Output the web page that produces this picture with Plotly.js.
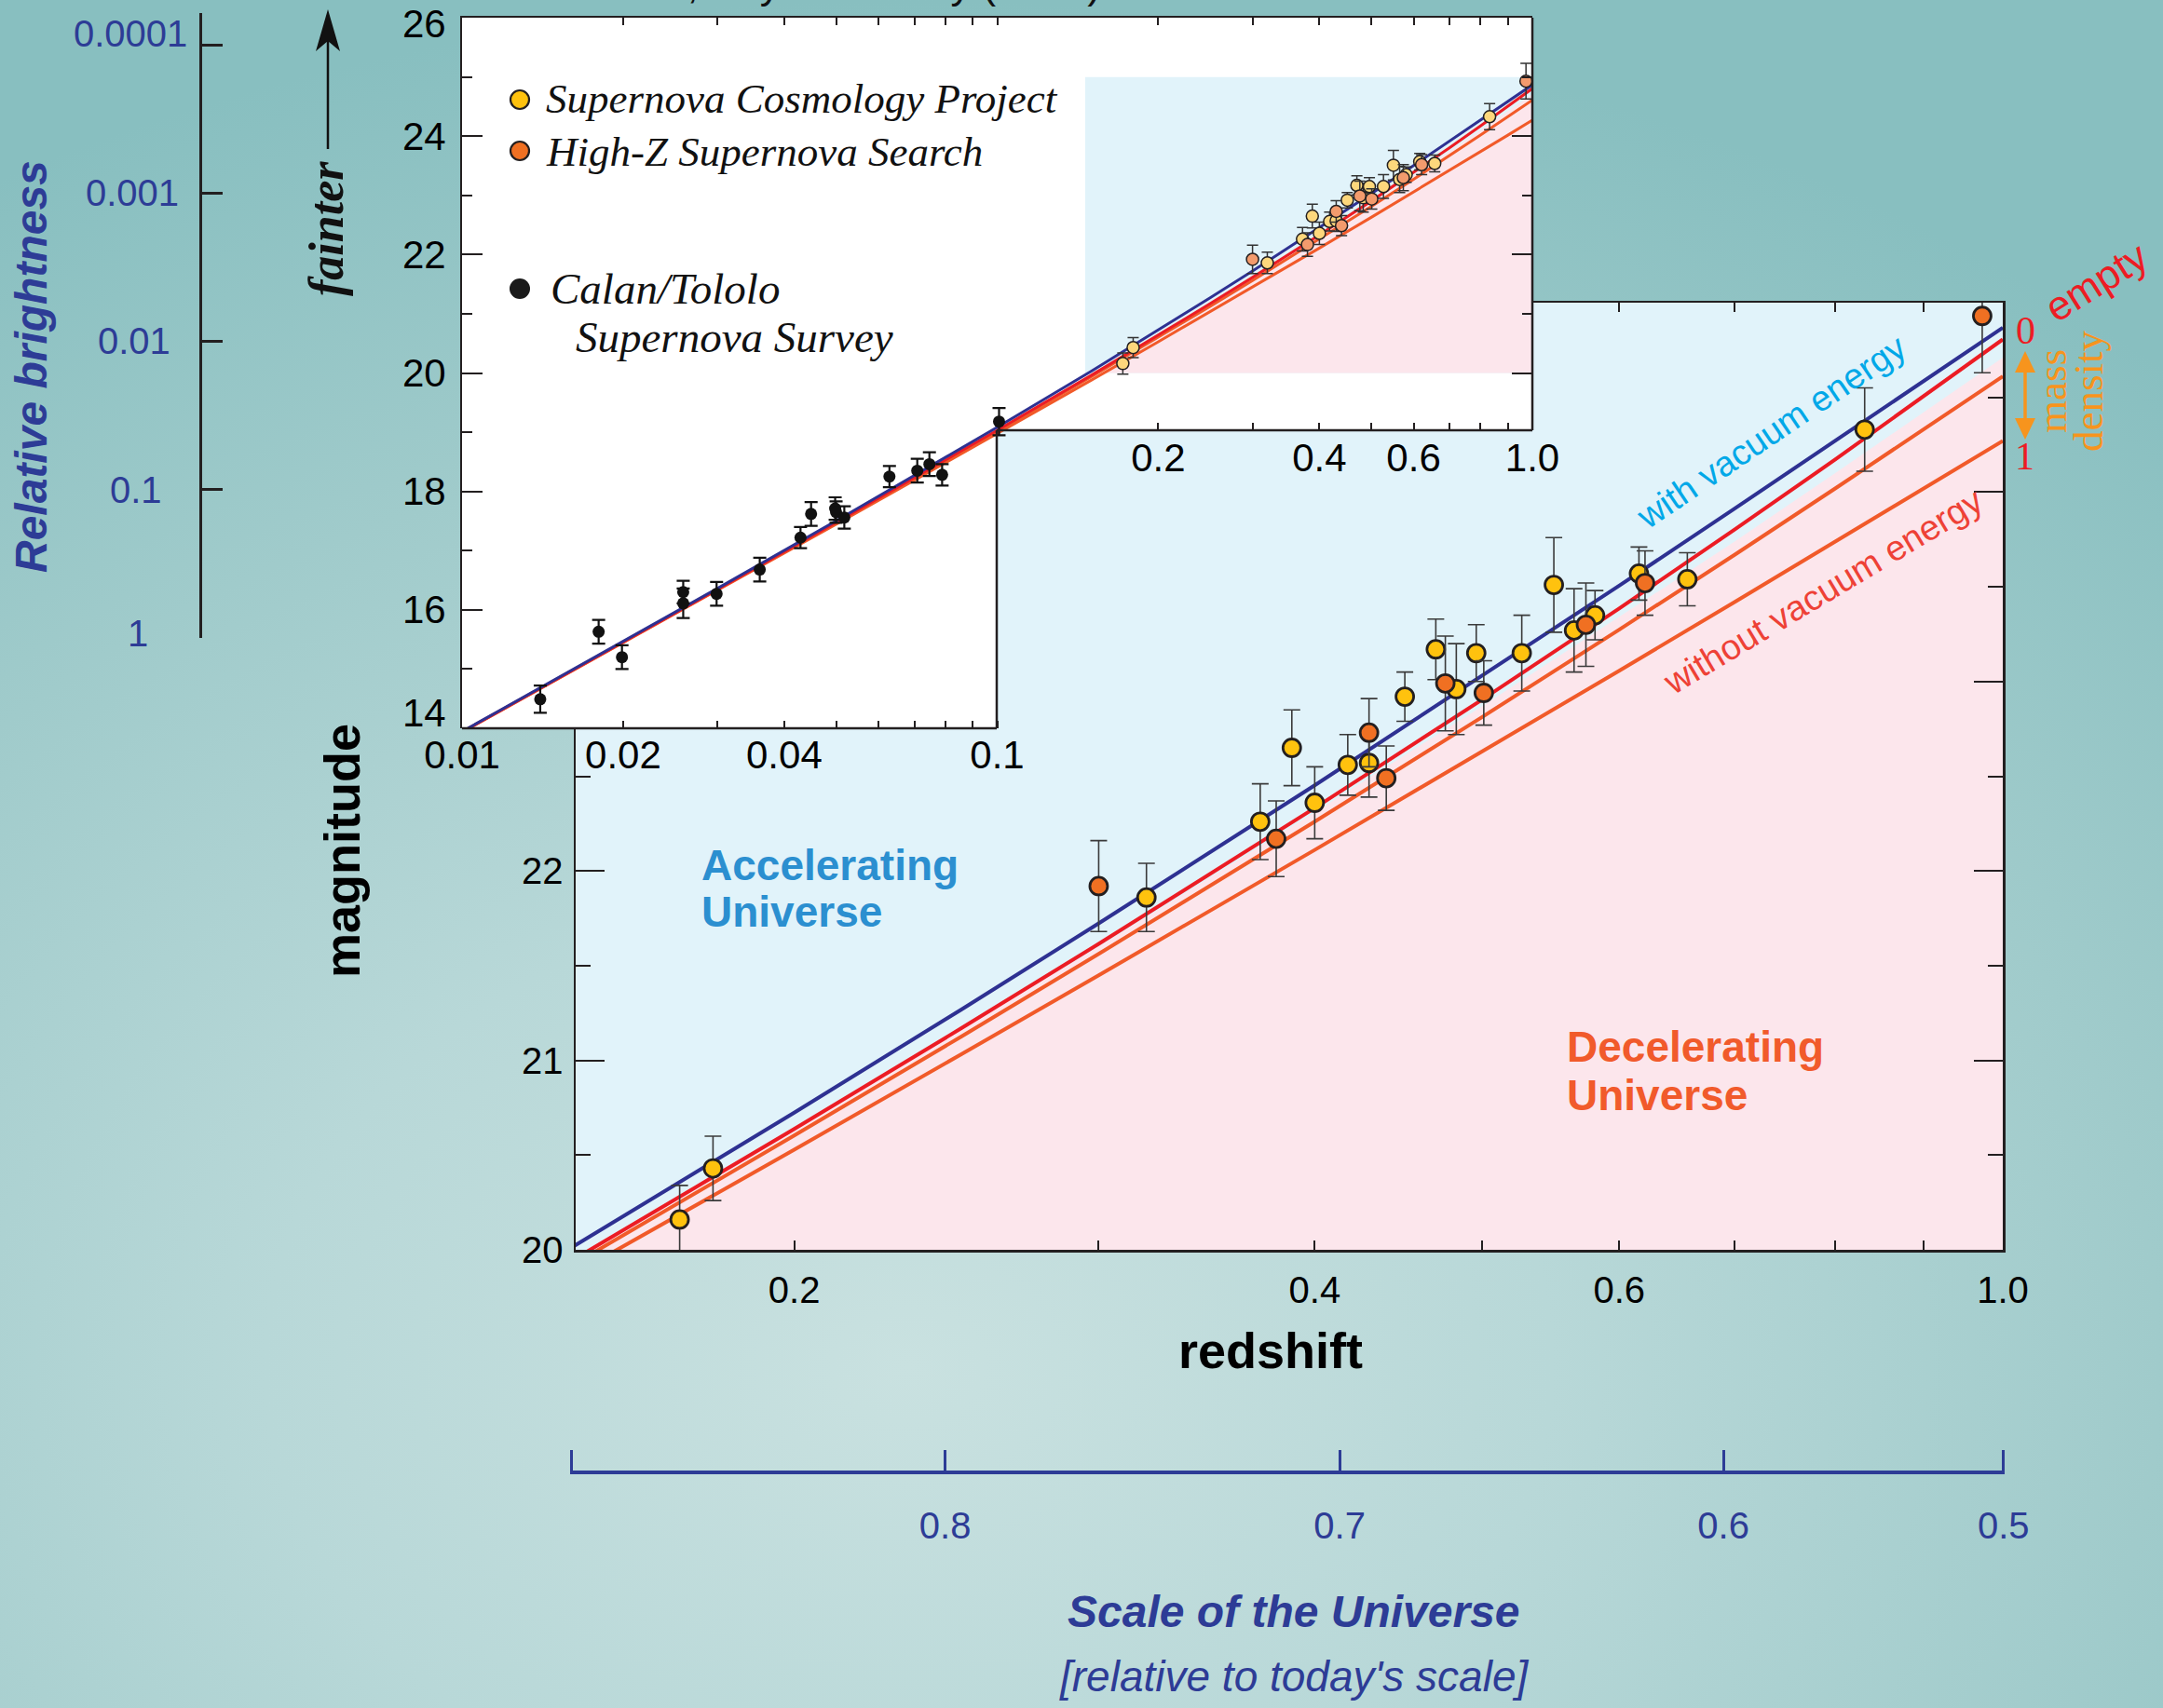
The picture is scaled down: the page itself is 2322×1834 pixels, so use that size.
<!DOCTYPE html>
<html><head><meta charset="utf-8">
<script src="https://cdn.plot.ly/plotly-3.0.1.min.js"></script>
<style>
html,body{margin:0;padding:0;}
body{width:2322px;height:1834px;overflow:hidden;
background: radial-gradient(ellipse 85% 80% at 42% 80%, #c9e1e0 0%, #b8d8d8 35%, #a0cbcb 68%, #88bfc0 100%);}
#chart{width:2322px;height:1834px;}
</style></head><body><div id="chart"></div>
<script>
// ------------------ DATA ------------------
// cosmological model curves (magnitude vs redshift)
const modelZ       = [0.01,0.015,0.02,0.03,0.05,0.07,0.1,0.15,0.2,0.25,0.3,0.4,0.5,0.6,0.7,0.8,0.9,1.0];
const mVacuum      = [13.943,14.831,15.464,16.361,17.502,18.264,19.083,20.033,20.724,21.270,21.723,22.452,23.029,23.506,23.914,24.270,24.585,24.868];
const mEmpty       = [13.937,14.823,15.453,16.344,17.475,18.226,19.032,19.963,20.638,21.171,21.615,22.332,22.905,23.386,23.803,24.172,24.504,24.806];
const mLowDensity  = [13.935,14.820,15.450,16.339,17.466,18.215,19.015,19.938,20.603,21.127,21.562,22.260,22.813,23.274,23.670,24.019,24.330,24.611];
const mFullDensity = [13.931,14.815,15.442,16.328,17.447,18.188,18.977,19.881,20.528,21.034,21.449,22.111,22.630,23.057,23.421,23.737,24.018,24.270];
// accelerating / decelerating boundary
const boundaryZ = [0.153,0.2,0.3,0.4,0.5,0.6,0.7,0.8,0.9,1.0];
const boundaryM = [20.00,20.63,21.60,22.31,22.87,23.34,23.74,24.10,24.42,24.71];
// Supernova Cosmology Project
const scpZ   = [0.1717,0.1795,0.3197,0.372,0.388,0.400,0.418,0.430,0.451,0.470,0.483,0.496,0.527,0.550,0.565,0.581,0.616,0.657,0.832];
const scpM   = [20.16,20.43,21.86,22.26,22.65,22.36,22.56,22.57,22.92,23.17,22.96,23.15,23.15,23.51,23.27,23.35,23.57,23.54,24.33];
const scpErr = [0.18,0.17,0.18,0.20,0.20,0.19,0.16,0.18,0.13,0.16,0.24,0.15,0.20,0.25,0.22,0.13,0.14,0.14,0.22];
// High-Z Supernova Search
const hzZ   = [0.300,0.380,0.430,0.440,0.476,0.501,0.574,0.621,0.973];
const hzM   = [21.92,22.17,22.73,22.49,22.99,22.94,23.30,23.52,24.93];
const hzErr = [0.24,0.20,0.18,0.17,0.25,0.17,0.22,0.17,0.30];
// Calan/Tololo Supernova Survey
const ctZ   = [0.0140,0.0180,0.0199,0.0259,0.0259,0.0299,0.0360,0.0429,0.0449,0.0498,0.0500,0.0518,0.0629,0.0709,0.0747,0.0789,0.1008];
const ctM   = [14.49,15.63,15.20,16.30,16.11,16.27,16.68,17.22,17.62,17.71,17.65,17.56,18.25,18.35,18.46,18.28,19.18];
const ctErr = [0.23,0.20,0.20,0.19,0.25,0.20,0.20,0.18,0.20,0.19,0.18,0.19,0.18,0.20,0.20,0.18,0.23];
// tick values / labels
const mainXTicks  = [0.2,0.3,0.4,0.5,0.6,0.7,0.8,0.9,1.0];
const mainXLabels = ['0.2','','0.4','','0.6','','','','1.0'];
const mainYTicks  = [20,21,22,23,24,25];
const mainYMinor  = [20.5,21.5,22.5,23.5,24.5];
const insetXLow       = [0.01,0.02,0.03,0.04,0.05,0.06,0.07,0.08,0.09,0.1];
const insetXLowLabels = ['0.01','0.02','','0.04','','','','','','0.1'];
const insetXHigh       = [0.2,0.3,0.4,0.5,0.6,0.7,0.8,0.9,1.0];
const insetXHighLabels = ['0.2','','0.4','','0.6','','','','1.0'];
const insetYMajor = [14,16,18,20,22,24,26];
const insetYMinor = [15,17,19,21,23,25];
const insetRightMajor = [20,22,24,26];
const insetRightMinor = [21,23,25];
const brightnessVals   = [1,0.1,0.01,0.001,0.0001];
const brightnessLabels = ['1','0.1','0.01','0.001','0.0001'];
const scaleTickZ  = [0.1483,0.2441,0.4129,0.6885,1.0];
const scaleLabels = ['','0.8','0.7','0.6','0.5'];
const legendNames = ['Supernova Cosmology Project','High-Z Supernova Search','Calan/Tololo','Supernova Survey'];

// ------------------ LAYOUT HELPERS ------------------
const W = 2322, H = 1834;
const px = x => x / W;
const py = y => 1 - y / H;
const SANS = '"Liberation Sans", Arial, Helvetica, sans-serif';
const SERIF = '"Liberation Serif", "Times New Roman", Times, serif';
const INK = '#231F20';
const NAVY = '#2D3C96';
const mainZRange = [0.1495, 1.0], mainMRange = [20, 25];
const insetMRange = [13.999, 26.002], insetStepM = 19.042, insetStepZ = 0.1, insetPanelZ0 = 0.146;

const traces = [];
const models = [
  {m: mFullDensity, c: '#F15A29'},
  {m: mLowDensity,  c: '#F15A29'},
  {m: mEmpty,       c: '#EC1C24'},
  {m: mVacuum,      c: '#2E3192'}
];
// main panel
traces.push({x: boundaryZ.concat([boundaryZ[boundaryZ.length-1]]), y: boundaryM.concat([mainMRange[0]]),
  xaxis:'x', yaxis:'y', mode:'lines', fill:'toself', fillcolor:'#FCE6EC', line:{width:0}, hoverinfo:'skip'});
models.forEach(md => traces.push({x: modelZ, y: md.m, xaxis:'x', yaxis:'y', mode:'lines',
  line:{color: md.c, width: 4}, hoverinfo:'skip'}));
traces.push({x: scpZ, y: scpM, xaxis:'x', yaxis:'y', mode:'markers',
  error_y:{type:'data', array: scpErr, visible:true, color:'#3a3a3a', thickness:1.6, width:9},
  marker:{color:'#FFC20E', size:19, line:{color:INK, width:2.8}}});
traces.push({x: hzZ, y: hzM, xaxis:'x', yaxis:'y', mode:'markers',
  error_y:{type:'data', array: hzErr, visible:true, color:'#3a3a3a', thickness:1.6, width:9},
  marker:{color:'#F07022', size:19, line:{color:INK, width:2.8}}});
// inset
traces.push({x: boundaryZ.concat([boundaryZ[boundaryZ.length-1]]), y: boundaryM.concat([mainMRange[0]]),
  xaxis:'x2', yaxis:'y2', mode:'lines', fill:'toself', fillcolor:'#FCE6EC', line:{width:0}, hoverinfo:'skip'});
models.forEach(md => traces.push({x: modelZ, y: md.m, xaxis:'x2', yaxis:'y2', mode:'lines',
  line:{color: md.c, width: 3}, hoverinfo:'skip'}));
traces.push({x: scpZ, y: scpM, xaxis:'x2', yaxis:'y2', mode:'markers',
  error_y:{type:'data', array: scpErr, visible:true, color:'#333', thickness:1.5, width:6},
  marker:{color:'#FDD77C', size:13, line:{color:INK, width:1.5}}});
traces.push({x: hzZ, y: hzM, xaxis:'x2', yaxis:'y2', mode:'markers',
  error_y:{type:'data', array: hzErr, visible:true, color:'#333', thickness:1.5, width:6},
  marker:{color:'#F39B6D', size:13, line:{color:INK, width:1.5}}});
traces.push({x: ctZ, y: ctM, xaxis:'x2', yaxis:'y2', mode:'markers',
  error_y:{type:'data', array: ctErr, visible:true, color:'#111', thickness:2.2, width:7},
  marker:{color:'#111', size:13}});
// carrier traces for auxiliary axes (draw nothing)
traces.push({x: insetXHigh, y: insetXHigh.map(()=>20), xaxis:'x5', yaxis:'y2', mode:'none', hoverinfo:'skip'});
traces.push({x: insetXLow, y: insetXLow.map(()=>20), xaxis:'x6', yaxis:'y2', mode:'none', hoverinfo:'skip'});
traces.push({x: [0.5], y: insetRightMajor, xaxis:'x2', yaxis:'y7', mode:'none', hoverinfo:'skip'});
traces.push({x: scaleTickZ, y: scaleTickZ.map(()=>0.5), xaxis:'x3', yaxis:'y3', mode:'none', hoverinfo:'skip'});
traces.push({x: brightnessVals.map(()=>0.5), y: brightnessVals, xaxis:'x4', yaxis:'y4', mode:'none', hoverinfo:'skip'});

const tickBase = {tickmode:'array', ticks:'inside', tickcolor:INK, showgrid:false, zeroline:false, linecolor:INK};

const layout = {
  width: W, height: H, autosize:false,
  margin:{l:0,r:0,t:0,b:0,pad:0},
  paper_bgcolor:'rgba(0,0,0,0)', plot_bgcolor:'rgba(0,0,0,0)',
  showlegend:false,
  font:{family:SANS, color:'#000'},
  // main panel
  xaxis: Object.assign({}, tickBase, {type:'log', domain:[px(618), px(2150)],
    range:[Math.log10(mainZRange[0]), Math.log10(mainZRange[1])], anchor:'y',
    tickvals: mainXTicks, ticktext: mainXLabels, ticklen:10, tickwidth:2,
    showline:true, linewidth:2.5, mirror:'ticks', tickfont:{size:40, family:SANS}, ticklabelstandoff:6}),
  yaxis: Object.assign({}, tickBase, {domain:[py(1342), py(325)], range: mainMRange, anchor:'x',
    tickvals: mainYTicks, ticktext: mainYTicks.map(String), ticklen:31, tickwidth:2,
    minor:{tickmode:'array', tickvals: mainYMinor, ticks:'inside', ticklen:16, tickwidth:2, tickcolor:INK, showgrid:false},
    showline:true, linewidth:2.5, mirror:'ticks', tickfont:{size:40, family:SANS}, ticklabelstandoff:3}),
  // inset
  xaxis2: Object.assign({}, tickBase, {type:'log', domain:[px(496), px(1645)], range:[-2, 0], anchor:'y2',
    tickvals: insetXLow, ticktext: insetXLowLabels, ticklen:8, tickwidth:2, showline:false,
    tickfont:{size:42, family:SANS}, ticklabelstandoff:0}),
  xaxis5: Object.assign({}, tickBase, {type:'log', overlaying:'x2', anchor:'free', position: py(462), side:'bottom',
    range:[-2, 0], tickvals: insetXHigh, ticktext: insetXHighLabels, ticklen:8, tickwidth:2, showline:false,
    tickfont:{size:42, family:SANS}, ticklabelstandoff:1}),
  xaxis6: Object.assign({}, tickBase, {type:'log', overlaying:'x2', anchor:'y2', side:'top',
    range:[-2, 0], tickvals: insetXLow.concat(insetXHigh), showticklabels:false, ticklen:8, tickwidth:2,
    showline:true, linewidth:2.5}),
  yaxis2: Object.assign({}, tickBase, {domain:[py(782), py(19)], range: insetMRange, anchor:'x2',
    tickvals: insetYMajor, showticklabels:false, ticklen:22, tickwidth:2,
    minor:{tickmode:'array', tickvals: insetYMinor, ticks:'inside', ticklen:11, tickwidth:2, tickcolor:INK, showgrid:false},
    showline:true, linewidth:2.5}),
  yaxis7: Object.assign({}, tickBase, {overlaying:'y2', anchor:'x2', side:'right', range: insetMRange,
    tickvals: insetRightMajor, ticklen:22, tickwidth:2, showticklabels:false, showline:false,
    minor:{tickmode:'array', tickvals: insetRightMinor, ticks:'inside', ticklen:11, tickwidth:2, tickcolor:INK, showgrid:false}}),
  // scale-factor axis
  xaxis3: Object.assign({}, tickBase, {type:'log', domain:[px(612), px(2152)],
    range:[Math.log10(0.1481), Math.log10(1.0015)], anchor:'y3', side:'bottom',
    tickvals: scaleTickZ, ticktext: scaleLabels, ticklen:22, tickwidth:3, tickcolor:NAVY,
    showline:true, linewidth:3.5, linecolor:NAVY, tickfont:{size:40, color:NAVY, family:SANS}, ticklabelstandoff:21}),
  yaxis3: {domain:[py(1579), py(1576)], range:[0,1], anchor:'x3', visible:false},
  // relative-brightness axis
  xaxis4: {domain:[px(217), px(219)], range:[0,1], anchor:'y4', visible:false},
  yaxis4: Object.assign({}, tickBase, {type:'log', domain:[py(685), py(14)], range:[0.002, -4.2148], anchor:'x4',
    side:'left', tickvals: brightnessVals, showticklabels:false, ticklen:22, tickwidth:3,
    showline:true, linewidth:3}),
  shapes: [], annotations: []
};

const S = layout.shapes, A = layout.annotations;
// main panel background (accelerating region colour)
S.push({type:'rect', xref:'x', yref:'y', layer:'below', x0: mainZRange[0], x1: mainZRange[1],
  y0: mainMRange[0], y1: mainMRange[1], fillcolor:'#E1F3FA', line:{width:0}});
// inset white background (L shape)
S.push({type:'rect', xref:'x2', yref:'y2', layer:'below', x0:0.01, x1:insetStepZ, y0:insetMRange[0], y1:insetMRange[1],
  fillcolor:'#FFFFFF', line:{width:0}});
S.push({type:'rect', xref:'x2', yref:'y2', layer:'below', x0:insetStepZ*0.995, x1:1.0, y0:insetStepM, y1:insetMRange[1],
  fillcolor:'#FFFFFF', line:{width:0}});
S.push({type:'rect', xref:'x2', yref:'y2', layer:'below', x0: insetPanelZ0, x1: mainZRange[1],
  y0: mainMRange[0], y1: mainMRange[1], fillcolor:'#E1F3FA', line:{width:0}});
// inset stepped outline
const seg = (x0,y0,x1,y1,c,w) => ({type:'line', xref:'paper', yref:'paper', layer:'above',
  x0:px(x0), y0:py(y0), x1:px(x1), y1:py(y1), line:{color:c, width:w}});
S.push(seg(496,782,1070,782,INK,2.5));
S.push(seg(1070,782,1070,462,INK,2.5));
S.push(seg(1070,462,1645,462,INK,2.5));
S.push(seg(1645,462,1645,19,INK,2.5));
// legend markers
const dot = (cx,cy,r,fill,lw) => ({type:'circle', xref:'paper', yref:'paper', layer:'above',
  x0:px(cx-r), x1:px(cx+r), y0:py(cy+r), y1:py(cy-r), fillcolor:fill, line:{color:INK, width:lw}});
S.push(dot(558,107,10,'#FFC20E',2.2));
S.push(dot(558,162,10,'#F07022',2.2));
S.push(dot(558,310,11,'#1a1a1a',0));
// "fainter" arrow
S.push(seg(352,160,352,40,'#111',2.5));
const path = pts => 'M' + pts.map(p => px(p[0]) + ',' + py(p[1])).join(' L') + ' Z';
S.push({type:'path', xref:'paper', yref:'paper', layer:'above', path: path([[352,10],[365,55],[352,44],[339,55]]),
  fillcolor:'#111', line:{width:0}});
// mass-density double arrow
const ORANGE = '#F7941D';
S.push(seg(2174,395,2174,455,ORANGE,3.5));
S.push({type:'path', xref:'paper', yref:'paper', layer:'above', path: path([[2174,377],[2185,400],[2163,400]]),
  fillcolor:ORANGE, line:{width:0}});
S.push({type:'path', xref:'paper', yref:'paper', layer:'above', path: path([[2174,472],[2185,449],[2163,449]]),
  fillcolor:ORANGE, line:{width:0}});

// annotations
const ann = (text, x, y, font, extra) => Object.assign({text, x:px(x), y:py(y), xref:'paper', yref:'paper',
  showarrow:false, xanchor:'center', yanchor:'middle', borderpad:0, font}, extra||{});
// inset y tick labels (end labels nudged inward as in the figure)
insetYMajor.forEach((v,i) => A.push({text: String(v), x:px(480), xref:'paper', y:v, yref:'y2',
  yshift: i === 0 ? 16 : (i === insetYMajor.length-1 ? -6 : 0),
  showarrow:false, xanchor:'right', yanchor:'middle', borderpad:0, font:{family:SANS, size:42, color:'#000'}}));
// legend text
const legFont = {family:SERIF, size:45, style:'italic', color:'#111'};
A.push(ann(legendNames[0], 585, 106, legFont, {xanchor:'left'}));
A.push(ann(legendNames[1], 585, 163, legFont, {xanchor:'left'}));
A.push(ann(legendNames[2], 590, 310, {family:SERIF, size:47, style:'italic', color:'#111'}, {xanchor:'left'}));
A.push(ann(legendNames[3], 617, 362, {family:SERIF, size:47, style:'italic', color:'#111'}, {xanchor:'left'}));
// axis titles
A.push(ann('magnitude', 367, 914, {family:SANS, size:54, weight:'bold', color:'#000'}, {textangle:-90}));
A.push(ann('redshift', 1364, 1450, {family:SANS, size:54, weight:'bold', color:'#000'}));
A.push(ann('fainter', 350, 245, {family:SERIF, size:52, weight:'bold', style:'italic', color:'#111'}, {textangle:-90}));
A.push(ann('Relative brightness', 33, 394, {family:SANS, size:48, weight:'bold', style:'italic', color:NAVY}, {textangle:-90}));
brightnessVals.forEach((v,i) => A.push({text: brightnessLabels[i], x:px(148 - 2*i), xref:'paper',
  y:Math.log10(v), yref:'y4', yshift: (i === brightnessVals.length-1) ? 12 : (i === 0 ? 5 : 0),
  showarrow:false, xanchor:'center', yanchor:'middle', borderpad:0, font:{family:SANS, size:40, color:NAVY}}));
A.push(ann('Scale of the Universe', 1389, 1730, {family:SANS, size:48, weight:'bold', style:'italic', color:NAVY}));
A.push(ann("[relative to today's scale]", 1389, 1800, {family:SANS, size:46, style:'italic', color:NAVY}));
// region labels
const accFont = {family:SANS, size:46, weight:'bold', color:'#2B8FD0'};
A.push(ann('Accelerating', 752, 929, accFont, {xanchor:'left'}));
A.push(ann('Universe', 752, 979, accFont, {xanchor:'left'}));
const decFont = {family:SANS, size:46, weight:'bold', color:'#F15A2B'};
A.push(ann('Decelerating', 1681, 1124, decFont, {xanchor:'left'}));
A.push(ann('Universe', 1681, 1176, decFont, {xanchor:'left'}));
// curve labels
A.push(ann('with vacuum energy', 1901, 464, {family:SANS, size:38, color:'#00A8E8'}, {textangle:-34}));
A.push(ann('without vacuum energy', 1957, 635, {family:SANS, size:38, color:'#EE4136'}, {textangle:-31}));
A.push(ann('empty', 2250, 302, {family:SANS, size:44, color:'#ED1C24'}, {textangle:-32}));
A.push(ann('0', 2174, 355, {family:SERIF, size:42, color:'#ED1C24'}));
A.push(ann('1', 2173, 490, {family:SERIF, size:42, color:'#ED1C24'}));
A.push(ann('mass', 2203, 420, {family:SERIF, size:45, color:ORANGE}, {textangle:-90}));
A.push(ann('density', 2242, 420, {family:SERIF, size:45, color:ORANGE}, {textangle:-90}));
// cropped header at the very top
A.push(ann('Perlmutter, Physics Today (2003)', 536, 8, {family:SANS, size:44, color:'#111'}, {xanchor:'left', yanchor:'bottom'}));

Plotly.newPlot('chart', traces, layout, {staticPlot:true, displayModeBar:false});
</script></body></html>
